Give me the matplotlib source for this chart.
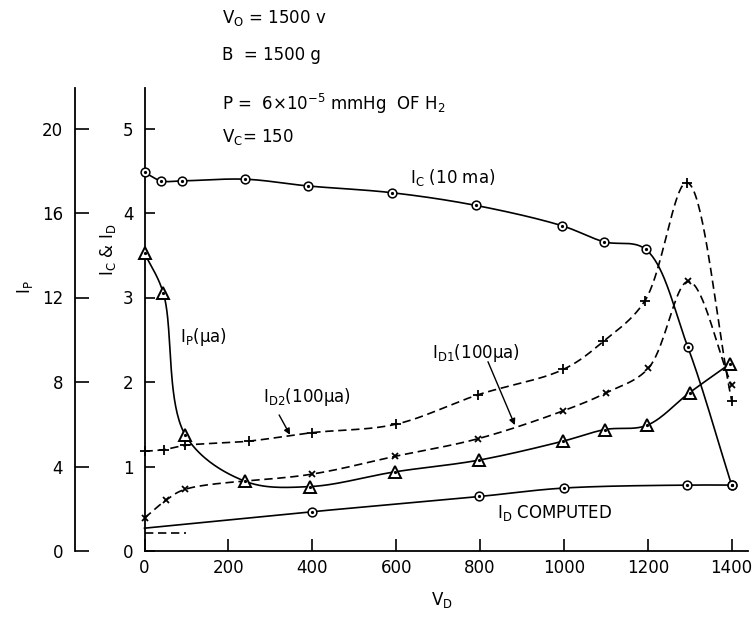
import numpy as np
import matplotlib
matplotlib.use("Agg")
import matplotlib.pyplot as plt

plt.rcParams['font.family'] = ['DejaVu Sans']
plt.rcParams['mathtext.default'] = 'regular'

# ---------------- data ----------------
# V_D (volts)
ic_x = [0, 40, 90, 240, 390, 590, 790, 995, 1095, 1195, 1295, 1400]
ic_y = [4.48, 4.38, 4.38, 4.40, 4.32, 4.24, 4.09, 3.85, 3.66, 3.57, 2.42, 0.78]   # I_C (10 ma)

ip_x = [0, 45, 97, 240, 395, 598, 797, 998, 1098, 1198, 1300, 1395]
ip_y = [14.1, 12.2, 5.5, 3.3, 3.05, 3.75, 4.3, 5.2, 5.75, 5.95, 7.5, 8.85]      # I_P (micro-amp)

id2_x = [0, 47, 97, 248, 399, 599, 796, 999, 1094, 1193, 1293, 1400]
id2_y = [1.18, 1.20, 1.25, 1.30, 1.40, 1.50, 1.85, 2.15, 2.48, 2.96, 4.36, 1.78]  # I_D2 (100 ua)

id1_x = [0, 51, 97, 400, 597, 796, 999, 1100, 1201, 1297, 1400]
id1_y = [0.39, 0.60, 0.73, 0.91, 1.12, 1.33, 1.66, 1.87, 2.16, 3.19, 1.96]       # I_D1 (100 ua)

idc_x = [0, 400, 798, 1000, 1294, 1400]
idc_y = [0.27, 0.465, 0.645, 0.745, 0.78, 0.78]                                  # I_D computed
idc_marked = [False, True, True, True, True, True]

ref_x = [0, 100]
ref_y = [0.21, 0.21]                                                            # short dashed line

x_ticks = [0, 200, 400, 600, 800, 1000, 1200, 1400]
y_ticks = [0, 1, 2, 3, 4, 5]
ip_ticks = [0, 4, 8, 12, 16, 20]

# ---------------- layout ----------------
W, H = 756, 617
fig = plt.figure(figsize=(W / 100, H / 100), dpi=100)

X0, X1 = 144.5, 748.0     # px of x axis ends
Y0, Y1 = 551.0, 88.0      # px of y axis ends
PX_PER_X = 0.4194
PX_PER_Y = 84.5
xmax = (X1 - X0) / PX_PER_X
ymax = (Y0 - Y1) / PX_PER_Y

rect = [X0 / W, 1 - Y0 / H, (X1 - X0) / W, (Y0 - Y1) / H]
ax = fig.add_axes(rect)
ax.set_xlim(0, xmax)
ax.set_ylim(0, ymax)
for s in ['top', 'right']:
    ax.spines[s].set_visible(False)
for s in ['left', 'bottom']:
    ax.spines[s].set_linewidth(1.3)
ax.set_xticks(x_ticks)
ax.set_yticks(y_ticks)
ax.set_xticklabels([str(v) for v in x_ticks])
ax.set_yticklabels([str(v) for v in y_ticks])
ax.tick_params(axis='x', direction='in', length=8.5, width=1.2, pad=6, labelsize=12)
ax.tick_params(axis='y', direction='in', length=7, width=1.2, pad=8, labelsize=12)

# I_P axis at the far left
axl = fig.add_axes([75 / W, 1 - Y0 / H, 0.02, (Y0 - Y1) / H])
axl.patch.set_visible(False)
axl.set_ylim(0, ymax * 4)
for s in ['top', 'right', 'bottom']:
    axl.spines[s].set_visible(False)
axl.spines['left'].set_linewidth(1.3)
axl.set_xticks([])
axl.set_yticks(ip_ticks)
axl.set_yticklabels([str(v) for v in ip_ticks])
axl.tick_params(axis='y', direction='in', length=10, width=1.2, pad=8.5, labelsize=12)

# overlay axes for plotting I_P on its own scale
axp = ax.twinx()
axp.set_ylim(0, ymax * 4)
axp.set_axis_off()


def smooth(xs, ys, sx, sy, n=40):
    P = np.column_stack([np.asarray(xs, float) * sx, np.asarray(ys, float) * sy])
    P = np.vstack([2 * P[0] - P[1], P, 2 * P[-1] - P[-2]])
    out = []
    for i in range(1, len(P) - 2):
        p0, p1, p2, p3 = P[i - 1], P[i], P[i + 1], P[i + 2]

        def tj(ti, a, b):
            return ti + max(np.hypot(*(b - a)), 1e-6) ** 0.5
        t0 = 0.0
        t1 = tj(t0, p0, p1)
        t2 = tj(t1, p1, p2)
        t3 = tj(t2, p2, p3)
        t = np.linspace(t1, t2, n)[:, None]
        A1 = (t1 - t) / (t1 - t0) * p0 + (t - t0) / (t1 - t0) * p1
        A2 = (t2 - t) / (t2 - t1) * p1 + (t - t1) / (t2 - t1) * p2
        A3 = (t3 - t) / (t3 - t2) * p2 + (t - t2) / (t3 - t2) * p3
        B1 = (t2 - t) / (t2 - t0) * A1 + (t - t0) / (t2 - t0) * A2
        B2 = (t3 - t) / (t3 - t1) * A2 + (t - t1) / (t3 - t1) * A3
        C = (t2 - t) / (t2 - t1) * B1 + (t - t1) / (t2 - t1) * B2
        out.append(C if i == 1 else C[1:])
    out = np.vstack(out)
    return out[:, 0] / sx, out[:, 1] / sy


LW = 1.2
DASH = (0, (5, 2.8))

# curves
cx, cy = smooth(ic_x, ic_y, PX_PER_X, PX_PER_Y)
ax.plot(cx, cy, color='black', lw=LW, clip_on=False, zorder=2)
cx, cy = smooth(idc_x, idc_y, PX_PER_X, PX_PER_Y)
ax.plot(cx, cy, color='black', lw=LW, clip_on=False, zorder=2)
cx, cy = smooth(id2_x, id2_y, PX_PER_X, PX_PER_Y)
ax.plot(cx, cy, color='black', lw=LW, ls=DASH, clip_on=False, zorder=2)
cx, cy = smooth(id1_x, id1_y, PX_PER_X, PX_PER_Y)
ax.plot(cx, cy, color='black', lw=LW, ls=DASH, clip_on=False, zorder=2)
ax.plot(ref_x, ref_y, color='black', lw=LW, ls=DASH, clip_on=False, zorder=2)
cx, cy = smooth(ip_x, ip_y, PX_PER_X, PX_PER_Y / 4)
axp.plot(cx, cy, color='black', lw=LW, clip_on=False, zorder=2)

# markers
ax.plot(ic_x, ic_y, ls='none', marker='o', ms=6.3, mfc='white', mec='black', mew=1.1, clip_on=False, zorder=4)
ax.plot(ic_x, ic_y, ls='none', marker='o', ms=1.3, mfc='black', mec='black', clip_on=False, zorder=5)
mx = [x for x, m in zip(idc_x, idc_marked) if m]
my = [y for y, m in zip(idc_y, idc_marked) if m]
ax.plot(mx, my, ls='none', marker='o', ms=6.3, mfc='white', mec='black', mew=1.1, clip_on=False, zorder=4)
ax.plot(mx, my, ls='none', marker='o', ms=1.3, mfc='black', mec='black', clip_on=False, zorder=5)
ax.plot(id2_x, id2_y, ls='none', marker='+', ms=7.5, mec='black', mew=1.3, clip_on=False, zorder=4)
ax.plot(id1_x, id1_y, ls='none', marker='x', ms=4.3, mec='black', mew=1.3, clip_on=False, zorder=4)
axp.plot(ip_x, ip_y, ls='none', marker='^', ms=8.3, mfc='white', mec='black', mew=1.4, clip_on=False, zorder=4)
axp.plot(ip_x, ip_y, ls='none', marker='o', ms=1.3, mfc='black', mec='black', clip_on=False, zorder=5)

# arrows
arrow = dict(arrowstyle='-|>', color='black', lw=1.0, mutation_scale=9, shrinkA=0, shrinkB=0)
ax.annotate('', xy=(347, 1.375), xytext=(321, 1.61), arrowprops=arrow, zorder=6)
ax.annotate('', xy=(883, 1.49), xytext=(819, 2.24), arrowprops=arrow, zorder=6)


def ftext(px, py, s, **kw):
    kw.setdefault('fontsize', 12)
    fig.text(px / W, 1 - py / H, s, **kw)


# curve labels
ftext(410, 183, r'I$_C$ (10 ma)', ha='left', va='baseline')
ftext(180, 342, r'I$_P$($\mu$a)', ha='left', va='baseline')
ftext(432, 358, r'I$_{D1}$(100$\mu$a)', ha='left', va='baseline')
ftext(263, 402, r'I$_{D2}$(100$\mu$a)', ha='left', va='baseline')
ftext(497, 518, r'I$_D$ COMPUTED', ha='left', va='baseline')

# parameter block
ftext(222, 23, r'V$_O$ = 1500 v', ha='left', va='baseline')
ftext(222, 60, r'B  = 1500 g', ha='left', va='baseline')
ftext(222, 110, r'P =  6$\times$10$^{-5}$ mmHg  OF H$_2$', ha='left', va='baseline')
ftext(222, 142, r'V$_C$= 150', ha='left', va='baseline')

# axis titles
ftext(442, 605, r'V$_D$', ha='center', va='baseline')
ftext(25, 287, r'I$_P$', ha='center', va='center', rotation=90)
ftext(108, 250, r'I$_C$ & I$_D$', ha='center', va='center', rotation=90)

fig.savefig('out.png', dpi=100)
